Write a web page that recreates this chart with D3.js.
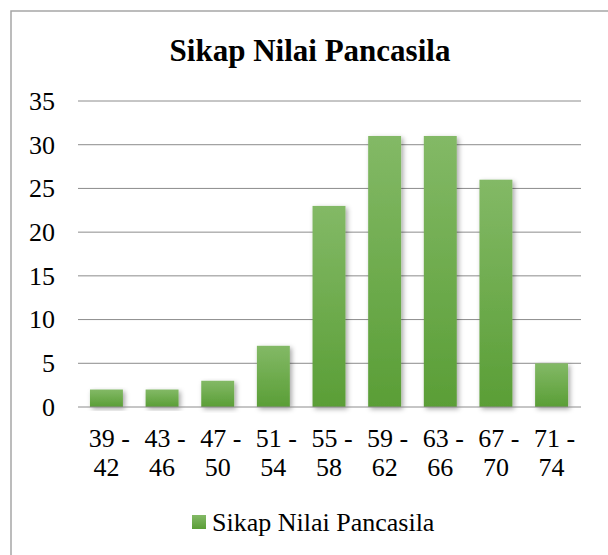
<!DOCTYPE html>
<html><head><meta charset="utf-8">
<script src="https://cdn.jsdelivr.net/npm/d3@7"></script>
</head><body style="margin:0">
<script>
const categories = ["39 - 42","43 - 46","47 - 50","51 - 54","55 - 58","59 - 62","63 - 66","67 - 70","71 - 74"];
const values = [2,2,3,7,23,31,31,26,5];
const yTicks = [0,5,10,15,20,25,30,35];
const seriesName = "Sikap Nilai Pancasila";
const title = "Sikap Nilai Pancasila";

const FONT = "'Times New Roman', 'Liberation Serif', serif";
const W=608,H=555;
const svg=d3.select("body").append("svg").attr("width",W).attr("height",H).style("display","block")
  .style("font-family",FONT);
const defs=svg.append("defs");
const g=defs.append("linearGradient").attr("id","bg").attr("x1",0).attr("y1",0).attr("x2",0).attr("y2",1);
g.append("stop").attr("offset","0%").attr("stop-color","#83b966");
g.append("stop").attr("offset","100%").attr("stop-color","#5a9e36");
const f=defs.append("filter").attr("id","sh").attr("x","-30%").attr("y","-10%").attr("width","160%").attr("height","130%");
f.append("feDropShadow").attr("dx",2).attr("dy",2).attr("stdDeviation",2.5).attr("flood-color","#000").attr("flood-opacity",0.35);

svg.append("rect").attr("x",11).attr("y",11).attr("width",620).attr("height",570)
 .attr("fill","#fff").attr("stroke","#a6a6a6").attr("stroke-width",1.5);

function txt(sel){return sel.style("font-family",FONT).style("fill","#000");}

txt(svg.append("text")).attr("x",310).attr("y",61).attr("text-anchor","middle")
 .style("font-weight","bold").style("font-size","31px").text(title);

const x=d3.scaleBand().domain(categories).range([78,580]).paddingInner(0.408).paddingOuter(0.215);
const y=d3.scaleLinear().domain([0,35]).range([407,101]);

svg.append("g").selectAll("line").data(yTicks.filter(d=>d>0)).join("line")
 .attr("x1",78).attr("x2",581).attr("y1",d=>y(d)).attr("y2",d=>y(d))
 .attr("stroke","#8c8c8c").attr("stroke-width",1);

const yl=svg.append("g");
yTicks.forEach(t=>{
 txt(yl.append("text")).attr("x",55).attr("y",y(t)).attr("dy","0.34em").attr("text-anchor","end").style("font-size","26px").text(t);
});

svg.append("g").selectAll("rect").data(values).join("rect")
 .attr("x",(d,i)=>x(categories[i])).attr("width",x.bandwidth())
 .attr("y",d=>y(d)).attr("height",d=>y(0)-y(d))
 .attr("fill","url(#bg)").attr("filter","url(#sh)");

svg.append("line").attr("x1",78).attr("x2",581).attr("y1",y(0)).attr("y2",y(0))
 .attr("stroke","#8c8c8c").attr("stroke-width",1);

const xl=svg.append("g");
categories.forEach(c=>{
 const parts=c.split(" - ");
 const cx=x(c)+x.bandwidth()/2;
 const t=txt(xl.append("text")).style("font-size","26px").attr("text-anchor","middle");
 t.append("tspan").attr("x",cx+3).attr("y",447).text(parts[0]+" -");
 t.append("tspan").attr("x",cx).attr("y",476).text(parts[1]);
});

const lg=svg.append("g");
lg.append("rect").attr("x",192).attr("y",515).attr("width",14).attr("height",14).attr("fill","url(#bg)");
txt(lg.append("text")).attr("x",212).attr("y",531).style("font-size","26px").text(seriesName);
</script>
</body></html>
